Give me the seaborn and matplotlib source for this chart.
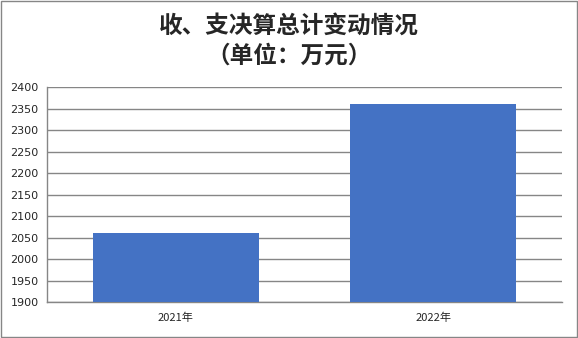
import matplotlib
matplotlib.use("Agg")
import matplotlib.pyplot as plt
import seaborn as sns
import pandas as pd
from matplotlib.patches import Rectangle

categories = ["2021年", "2022年"]
values = [2060, 2360]
yticks = [1900, 1950, 2000, 2050, 2100, 2150, 2200, 2250, 2300, 2350, 2400]
title = "收、支决算总计变动情况\n（单位：万元）"

sns.set_theme(style="white")
plt.rcParams['font.family'] = ['Noto Sans CJK SC', 'DejaVu Sans']

df = pd.DataFrame({"cat": categories, "val": values})

fig = plt.figure(figsize=(5.78, 3.38), dpi=100)
ax = fig.add_axes([47/578, 1 - 302/338, (562-47)/578, (302-87)/338])

sns.barplot(data=df, x="cat", y="val", color="#4472C4", width=0.645,
            saturation=1, ax=ax, zorder=3, linewidth=0)
ax.set_ylim(1900, 2400)
ax.set_yticks(yticks)
ax.set_yticklabels([str(t) for t in yticks], fontsize=8, family=['DejaVu Sans'])
ax.tick_params(axis='x', labelsize=8, length=0, pad=8)
ax.tick_params(axis='y', length=0, pad=6)
ax.set_xlabel("")
ax.set_ylabel("")
ax.grid(axis='y', color='#868686', linewidth=1, zorder=0)
for s in ['top', 'right']:
    ax.spines[s].set_visible(False)
for s in ['left', 'bottom']:
    ax.spines[s].set_color('#868686')
    ax.spines[s].set_linewidth(1)

fig.text(0.5, 1 - 41/338, title, ha='center', va='center', fontsize=17,
         fontweight='bold', linespacing=1.3)

fig.patches.append(Rectangle((1/578, 1/338), 576/578, 336/338, transform=fig.transFigure,
                             fill=False, edgecolor='#868686', linewidth=1))

fig.savefig("out.png", dpi=100)
